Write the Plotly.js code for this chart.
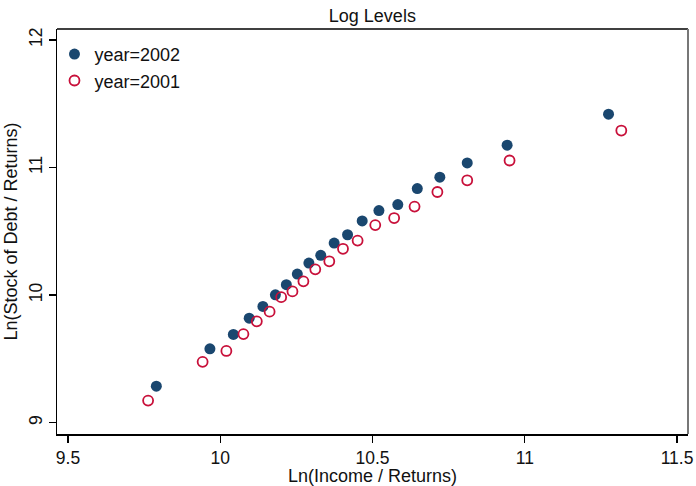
<!DOCTYPE html>
<html>
<head>
<meta charset="utf-8">
<script src="https://cdn.plot.ly/plotly-3.0.1.min.js"></script>
<style>html,body{margin:0;padding:0;background:#fff;}#chart{width:696px;height:486px;}</style>
</head>
<body>
<div id="chart"></div>
<script>
// year=2002 (filled navy)
const income2002 = [9.790, 9.966, 10.043, 10.095, 10.140, 10.181, 10.217, 10.253, 10.291, 10.330,
                    10.374, 10.418, 10.466, 10.521, 10.583, 10.647, 10.721, 10.811, 10.942, 11.275];
const debt2002   = [9.286, 9.579, 9.692, 9.819, 9.911, 10.002, 10.082, 10.165, 10.251, 10.312,
                    10.408, 10.473, 10.581, 10.663, 10.710, 10.835, 10.924, 11.036, 11.175, 11.418];
// year=2001 (hollow red)
const income2001 = [9.763, 9.942, 10.020, 10.076, 10.120, 10.162, 10.200, 10.237, 10.273, 10.312,
                    10.358, 10.403, 10.451, 10.509, 10.571, 10.638, 10.713, 10.811, 10.950, 11.317];
const debt2001   = [9.173, 9.477, 9.562, 9.694, 9.794, 9.870, 9.984, 10.029, 10.108, 10.202,
                    10.265, 10.363, 10.427, 10.549, 10.604, 10.694, 10.808, 10.900, 11.055, 11.290];
const xTicks = [9.5, 10, 10.5, 11, 11.5];
const yTicks = [9, 10, 11, 12];

const FONT = 'Liberation Sans, Arial, sans-serif';

const traces = [
  {
    x: income2002, y: debt2002, type: 'scatter', mode: 'markers', name: 'year=2002',
    marker: {symbol: 'circle', size: 11, color: '#1a476f', line: {width: 0}}
  },
  {
    x: income2001, y: debt2001, type: 'scatter', mode: 'markers', name: 'year=2001',
    marker: {symbol: 'circle-open', size: 10, color: '#c8103a', line: {width: 1.8, color: '#c8103a'}}
  }
];

const layout = {
  width: 696, height: 486,
  margin: {l: 57, r: 8, t: 29, b: 52, pad: 0},
  paper_bgcolor: '#ffffff', plot_bgcolor: '#ffffff',
  font: {family: FONT, size: 18, color: '#111'},
  title: {text: 'Log Levels', font: {family: FONT, size: 18, color: '#111'}, x: 0.535, xanchor: 'center', y: 0.967, yanchor: 'middle'},
  showlegend: true,
  legend: {x: -0.004, y: 0.983, xanchor: 'left', yanchor: 'top', bgcolor: 'rgba(0,0,0,0)',
           font: {family: FONT, size: 18, color: '#111'}, tracegroupgap: 0, traceorder: 'normal'},
  xaxis: {
    range: [9.4638, 11.536], tickvals: xTicks, ticktext: xTicks.map(String),
    showgrid: false, zeroline: false, showline: true, linecolor: '#000', linewidth: 1.5,
    ticks: 'outside', ticklen: 7, tickwidth: 1.2, tickcolor: '#000',
    tickfont: {family: FONT, size: 17.5, color: '#111'},
    title: {text: 'Ln(Income / Returns)', font: {family: FONT, size: 18, color: '#111'}, standoff: 6}
  },
  yaxis: {
    range: [8.911, 12.086], tickvals: yTicks, ticktext: yTicks.map(String), tickangle: -90,
    showgrid: false, zeroline: false, showline: true, linecolor: '#000', linewidth: 1.5,
    ticks: 'outside', ticklen: 7, tickwidth: 1.2, tickcolor: '#000',
    tickfont: {family: FONT, size: 17.5, color: '#111'},
    title: {text: 'Ln(Stock of Debt / Returns)', font: {family: FONT, size: 18, color: '#111'}, standoff: 3}
  },
  shapes: [
    {type: 'line', xref: 'paper', yref: 'paper', x0: 0, x1: 1, y0: 1, y1: 1, line: {color: '#000', width: 1.5}},
    {type: 'line', xref: 'paper', yref: 'paper', x0: 1, x1: 1, y0: 0, y1: 1, line: {color: '#777', width: 2}}
  ]
};

Plotly.newPlot('chart', traces, layout, {displayModeBar: false, staticPlot: true});
</script>
</body>
</html>
